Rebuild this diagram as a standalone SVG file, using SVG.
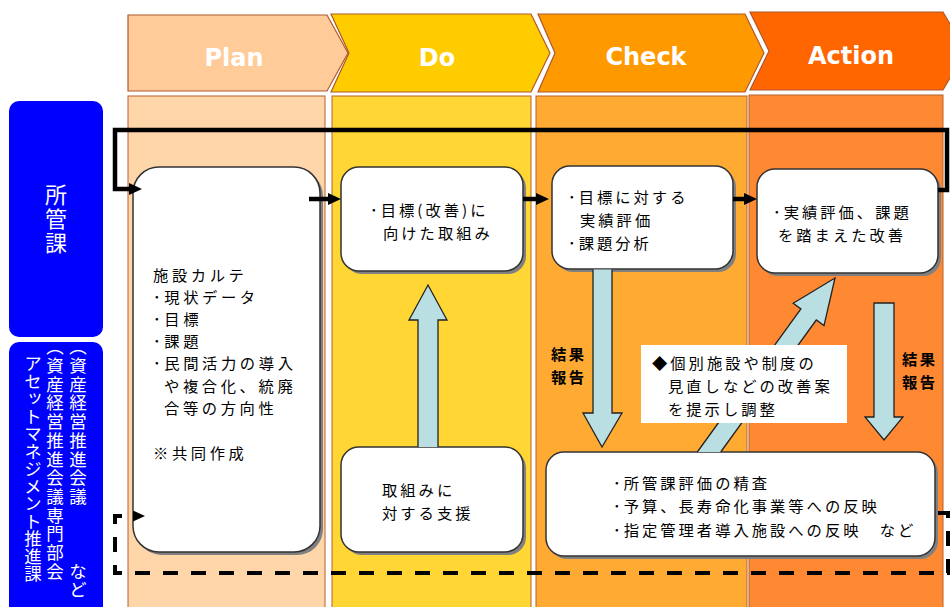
<svg xmlns="http://www.w3.org/2000/svg" width="950" height="607" viewBox="0 0 950 607">
<defs>
<style>
.lane{stroke:#B8612A;stroke-width:1}
.chev{stroke:#B0582A;stroke-width:1.2}
.hd{font-family:"DejaVu Sans","Liberation Sans",sans-serif;font-weight:bold;font-size:24px;fill:#fff;text-anchor:middle}
.box{fill:#fff;stroke:#333;stroke-width:1.5}
.sh{fill:#808080}
.t{font-family:"Noto Sans CJK JP","Noto Sans CJK SC",sans-serif;font-size:15.3px;letter-spacing:3px;fill:#000}
.vt{font-family:"Noto Sans CJK JP","Noto Sans CJK SC",sans-serif;fill:#fff;writing-mode:vertical-rl}
.blk{fill:none;stroke:#000;stroke-width:4.5}
.dash{fill:none;stroke:#000;stroke-width:4;stroke-dasharray:15 13}
.fa{fill:#B9DFE3;stroke:#222;stroke-width:1.3}
.lbl{font-weight:bold;letter-spacing:2.5px}
</style>
<marker id="ah" markerUnits="userSpaceOnUse" viewBox="0 0 13 12" refX="3" refY="6" markerWidth="13" markerHeight="12" orient="auto"><path d="M0,0 L13,6 L0,12 Z" fill="#000"/></marker>
<marker id="ahs" markerUnits="userSpaceOnUse" viewBox="0 0 12 11" refX="1" refY="5.5" markerWidth="12" markerHeight="11" orient="auto"><path d="M0,0 L12,5.5 L0,11 Z" fill="#000"/></marker>
</defs>
<rect width="950" height="607" fill="#fff"/>

<g id="lanes">
<rect class="lane" x="128" y="96" width="197" height="520" fill="#FFD5AA"/>
<rect class="lane" x="332" y="96" width="199" height="520" fill="#FFD633"/>
<rect class="lane" x="536" y="96" width="211" height="520" fill="#FFAA33"/>
<rect class="lane" x="749" y="95" width="194" height="520" fill="#FF8833"/>
</g>

<g id="header-plan"><path class="chev" d="M128,15 H327 L348,53 L327,91 H128 Z" fill="#FFCC99"/><text class="hd" x="234" y="66">Plan</text></g>
<g id="header-do"><path class="chev" d="M331,14 H531 L550,53 L531,92 H331 L349,53 Z" fill="#FFCC00"/><text class="hd" x="437" y="66">Do</text></g>
<g id="header-check"><path class="chev" d="M538,14 H745 L764,53 L745,92 H538 L555,53 Z" fill="#FF9900"/><text class="hd" x="646" y="65">Check</text></g>
<g id="header-action"><path class="chev" d="M750,12 H943 L966,51 L943,90 H750 L769,51 Z" fill="#FF6600"/><text class="hd" x="851" y="64">Action</text></g>

<g id="role-shokan">
<rect x="9" y="101" width="94" height="236" rx="10" fill="#0000FF"/>
<text class="vt" x="56" y="184" style="font-size:22px;letter-spacing:2px">所管課</text>
</g>
<g id="role-am">
<rect x="9" y="342" width="94" height="280" rx="10" fill="#0000FF"/>
<text class="vt" x="78" y="338" style="font-size:17.5px;letter-spacing:1.2px">（資産経営推進会議</text>
<text class="vt" x="78" y="563" style="font-size:17.5px">など</text>
<text class="vt" x="55" y="338" style="font-size:17.5px;letter-spacing:1.2px">（資産経営推進会議専門部会</text>
<text class="vt" x="33" y="355" style="font-size:17.5px">アセットマネジメント推進課</text>
</g>

<g id="node-plan">
<rect class="sh" x="136" y="170" width="187" height="385" rx="26"/>
<rect class="box" x="133" y="167" width="187" height="385" rx="26"/>
<text class="t" style="letter-spacing:3.6px">
<tspan x="153" y="281">施設カルテ</tspan>
<tspan x="153" y="303">･現状データ</tspan>
<tspan x="153" y="325">･目標</tspan>
<tspan x="153" y="347">･課題</tspan>
<tspan x="153" y="369">･民間活力の導入</tspan>
<tspan x="164" y="392">や複合化、統廃</tspan>
<tspan x="164" y="414">合等の方向性</tspan>
<tspan x="153" y="459">※共同作成</tspan>
</text>
</g>

<g id="node-do-target">
<rect class="sh" x="344" y="170" width="182" height="104" rx="18"/>
<rect class="box" x="341" y="167" width="182" height="104" rx="18"/>
<text class="t"><tspan x="370" y="216">･目標(改善)に</tspan><tspan x="383" y="239">向けた取組み</tspan></text>
</g>

<g id="node-do-support">
<rect class="sh" x="344" y="450" width="182" height="105" rx="18"/>
<rect class="box" x="341" y="447" width="182" height="105" rx="18"/>
<text class="t"><tspan x="382" y="496">取組みに</tspan><tspan x="382" y="519">対する支援</tspan></text>
</g>

<g id="node-check">
<rect class="sh" x="555" y="169" width="181" height="103" rx="18"/>
<rect class="box" x="552" y="166" width="181" height="103" rx="18"/>
<text class="t"><tspan x="568" y="203">･目標に対する</tspan><tspan x="580" y="226">実績評価</tspan><tspan x="568" y="249">･課題分析</tspan></text>
</g>

<g id="node-action">
<rect class="sh" x="760" y="172" width="181" height="104" rx="18"/>
<rect class="box" x="757" y="169" width="181" height="104" rx="18"/>
<text class="t"><tspan x="773" y="218">･実績評価、課題</tspan><tspan x="778" y="241">を踏まえた改善</tspan></text>
</g>

<g id="node-review">
<rect class="sh" x="549" y="455" width="389" height="104" rx="18"/>
<rect class="box" x="546" y="452" width="389" height="104" rx="18"/>
<text class="t"><tspan x="613" y="489">･所管課評価の精査</tspan><tspan x="613" y="512">･予算、長寿命化事業等への反映</tspan><tspan x="613" y="536">･指定管理者導入施設への反映　など</tspan></text>
</g>

<g id="connectors">
<path class="blk" d="M938,190 H947 V130 H115 V189 H132" marker-end="url(#ah)"/>
<path class="blk" d="M309,199 H331" marker-end="url(#ah)"/>
<path class="blk" d="M523,199 H539" marker-end="url(#ah)"/>
<path class="blk" d="M733,199 H747" marker-end="url(#ah)"/>
<path class="dash" d="M938,513 H948 V573 H115 V516 H134" marker-end="url(#ahs)"/>
<path class="fa" d="M418,447 V320 H409 L428,285 L447,320 H438 V447"/>
<path class="fa" d="M593,269.5 V413 H583 L602,447 L622,413 H612 V269.5"/>
<path class="fa" d="M874,303 V417 H865 L884,440 L903,417 H894 V303 Z"/>
<path class="fa" d="M697.3,452 L800.9,308.9 L793.2,303.3 L835,278 L824,325.6 L816.3,320 L720.7,452"/>
</g>

<g id="label-proposal">
<rect x="641" y="345" width="206" height="78" fill="#fff"/>
<text class="t"><tspan x="652" y="369">◆個別施設や制度の</tspan><tspan x="668" y="392">見直しなどの改善案</tspan><tspan x="668" y="415">を提示し調整</tspan></text>
</g>
<g id="label-report-check">
<text class="t lbl"><tspan x="551" y="360">結果</tspan><tspan x="551" y="383">報告</tspan></text>
</g>
<g id="label-report-action">
<text class="t lbl"><tspan x="902" y="365">結果</tspan><tspan x="902" y="388">報告</tspan></text>
</g>
</svg>
